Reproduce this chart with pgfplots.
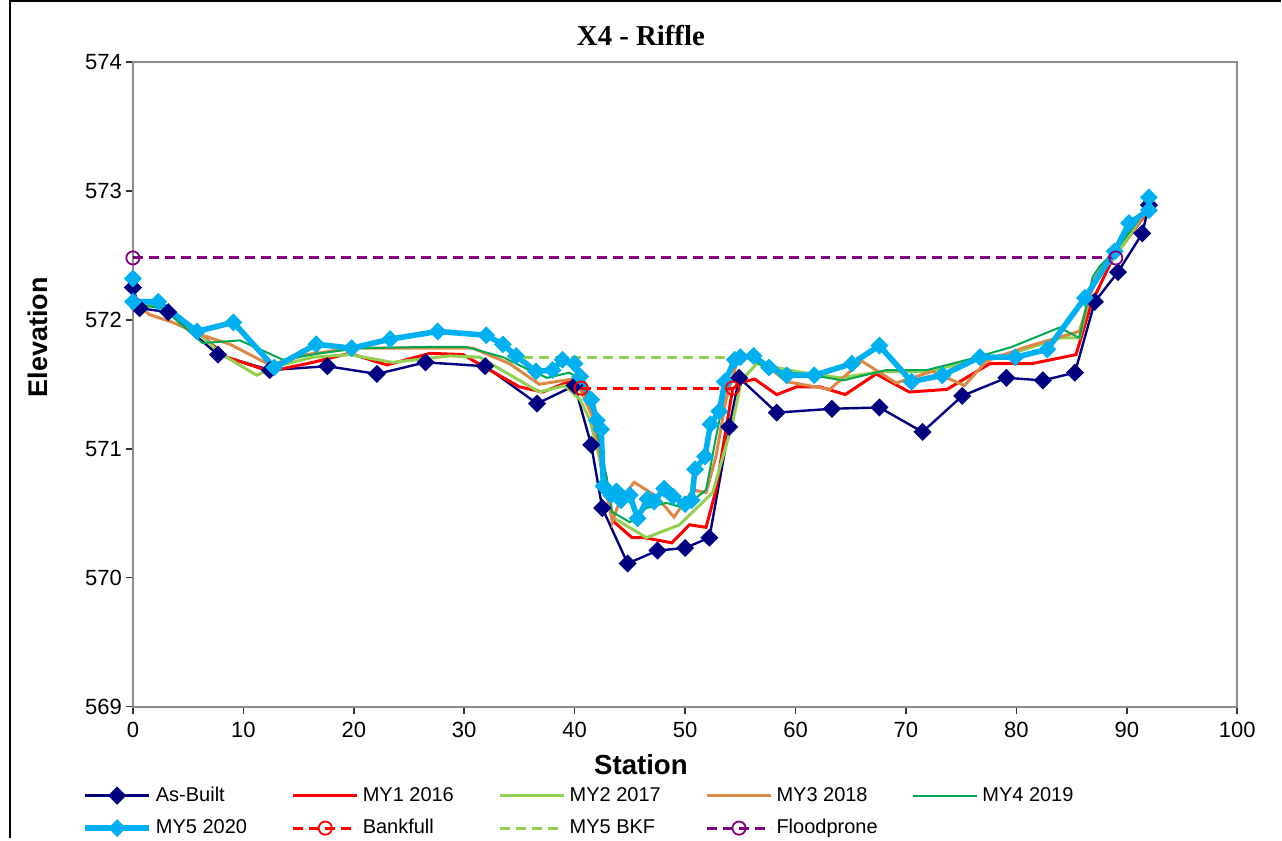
\documentclass[border=0pt]{standalone}
\usepackage{fontspec}
\setmainfont{Liberation Sans}
\newfontfamily\titlefont{Liberation Serif}
\usepackage{pgfplots}
\pgfplotsset{compat=1.18}
\definecolor{asbuilt}{HTML}{000080}
\definecolor{myone}{HTML}{FF0000}
\definecolor{mytwo}{HTML}{92D050}
\definecolor{mythree}{HTML}{DD8844}
\definecolor{myfour}{HTML}{00A84F}
\definecolor{myfive}{HTML}{00B0F0}
\definecolor{flood}{HTML}{800080}
\begin{document}
\begin{tikzpicture}
\begin{axis}[
  name=ax,
  scale only axis,
  width=552.5pt, height=322.5pt,
  xmin=0, xmax=100, ymin=569, ymax=574,
  xtick={0,10,...,100}, ytick={569,570,...,574},
  axis line style={draw=gray!90, line width=1pt},
  tick style={draw=black!80, line width=0.8pt},
  tick align=outside, major tick length=3.5pt,
  xtick pos=bottom, ytick pos=left,
  /pgf/number format/assume math mode=true,
  /pgf/number format/.cd, set thousands separator={}, 1000 sep={}, /pgfplots/.cd,
  tick label style={font=\fontsize{11}{13}\selectfont},
  yticklabel style={xshift=1.5pt},
  xticklabel style={yshift=-1pt},
  title={\titlefont\bfseries X4 - Riffle},
  title style={at={(axis description cs:0.46,1)}, anchor=center, yshift=7pt, font=\fontsize{14.4}{16}\selectfont},
  xlabel={\bfseries Station},
  ylabel={\bfseries Elevation},
  xlabel style={at={(axis description cs:0.46,-0.09)}, anchor=center, font=\fontsize{13.8}{15}\selectfont},
  ylabel style={at={(axis description cs:-0.086,0.573)}, anchor=center, font=\fontsize{13.5}{15}\selectfont},
  legend columns=5,
  legend cell align=left,
  legend style={at={(axis description cs:0,0)}, anchor=north west, xshift=-25.5pt, yshift=-38pt,
    draw=none, fill=none, inner sep=0pt, row sep=3.5pt, font=\fontsize{10}{12}\selectfont,
    /tikz/every even column/.append style={column sep=0pt}},
  legend image code/.code={\draw[mark repeat=2,mark phase=2,#1] plot coordinates {(0pt,0pt) (16pt,0pt) (32pt,0pt)};},
]
% As-Built
\addplot[color=asbuilt, line width=1.2pt, mark=square*, mark size=2.6pt, mark options={rotate=45, solid, fill=asbuilt}] coordinates {
(0,572.25) (0.6,572.09) (3.2,572.06) (7.7,571.73) (12.4,571.61) (17.6,571.64) (22.1,571.58) (26.5,571.67) (31.9,571.64) (36.6,571.35) (40.0,571.49) (41.5,571.03) (42.5,570.54) (44.8,570.11) (47.5,570.21) (50.0,570.23) (52.2,570.31) (54.0,571.17) (54.9,571.55) (58.3,571.28) (63.3,571.31) (67.6,571.32) (71.5,571.13) (75.1,571.41) (79.1,571.55) (82.4,571.53) (85.3,571.59) (87.1,572.14) (89.2,572.37) (91.4,572.67) (92.0,572.89)
};
\addlegendentry{\makebox[66pt][l]{As-Built}}
% MY1 2016
\addplot[color=myone, line width=1.5pt, no marks] coordinates {
(0,572.22) (0.3,572.16) (2.7,572.09) (5.8,571.91) (8.5,571.71) (12.4,571.6) (16.3,571.67) (19.6,571.74) (23.0,571.65) (26.9,571.74) (29.9,571.73) (31.7,571.64) (35.0,571.48) (37.1,571.44) (39.8,571.53) (40.5,571.47) (41.6,571.28) (42.5,570.81) (43.2,570.53) (43.6,570.43) (45.2,570.31) (46.3,570.31) (48.8,570.27) (50.4,570.41) (51.9,570.39) (52.8,570.68) (53.7,571.15) (54.3,571.46) (54.9,571.51) (56.3,571.54) (58.3,571.42) (60.1,571.48) (62.2,571.48) (64.5,571.42) (67.3,571.58) (70.3,571.44) (73.7,571.46) (77.6,571.66) (81.4,571.66) (85.4,571.73) (86.8,572.13) (88.7,572.47) (91.8,572.83) (92.0,572.86)
};
\addlegendentry{\makebox[66pt][l]{MY1 2016}}
% MY2 2017
\addplot[color=mytwo, line width=1.5pt, no marks] coordinates {
(0,572.2) (0.2,572.12) (2.7,572.10) (5.8,571.91) (7.9,571.74) (11.2,571.57) (13.0,571.64) (16.3,571.71) (19.6,571.73) (23.5,571.67) (28.7,571.72) (31.4,571.71) (36.8,571.44) (39.1,571.49) (40.5,571.38) (41.4,571.22) (42.5,570.84) (43.4,570.47) (46.5,570.31) (49.5,570.41) (52.5,570.66) (54.3,571.2) (55.1,571.53) (56.5,571.66) (60,571.6) (64,571.55) (68,571.6) (72,571.6) (76,571.68) (80,571.75) (84,571.86) (85.7,571.86) (87,572.3) (89,572.5) (92,572.87)
};
\addlegendentry{\makebox[66pt][l]{MY2 2017}}
% MY3 2018
\addplot[color=mythree, line width=1.5pt, no marks] coordinates {
(0,572.2) (0.2,572.13) (1.5,572.04) (3.6,571.98) (6.3,571.88) (8.8,571.81) (12.4,571.65) (15.7,571.73) (19.9,571.78) (23.5,571.78) (30.8,571.78) (34.1,571.66) (36.8,571.5) (39.8,571.54) (40.2,571.52) (41.6,571.25) (42.7,570.78) (43.4,570.43) (44.1,570.6) (45.4,570.74) (47.4,570.63) (49.0,570.47) (50.7,570.68) (51.9,570.66) (52.8,570.94) (53.7,571.38) (54.7,571.67) (55.6,571.71) (57.6,571.63) (59.2,571.52) (63.1,571.46) (66.0,571.68) (69.1,571.51) (72.4,571.6) (75.3,571.49) (77.3,571.68) (80.9,571.79) (85.7,571.91) (86.4,572.1) (87.2,572.33) (88.7,572.53) (91.9,572.85)
};
\addlegendentry{\makebox[66pt][l]{MY3 2018}}
% MY4 2019
\addplot[color=myfour, line width=1pt, no marks] coordinates {
(0,572.2) (0.2,572.12) (2.7,572.09) (6.3,571.82) (9.7,571.84) (13.6,571.69) (16.9,571.74) (20.5,571.78) (26.9,571.79) (30.2,571.79) (33.5,571.71) (35.9,571.61) (37.5,571.55) (39.5,571.59) (40.5,571.54) (41.6,571.3) (42.9,570.78) (43.4,570.51) (45.0,570.43) (46.5,570.54) (48.3,570.58) (49.5,570.55) (50.7,570.6) (51.9,570.68) (52.8,571.09) (53.7,571.48) (54.3,571.69) (55.8,571.71) (57.6,571.61) (61.5,571.57) (64.3,571.53) (68.2,571.61) (71.9,571.61) (76.0,571.7) (79.6,571.79) (83.9,571.94) (85.7,571.86) (86.9,572.33) (87.5,572.41) (88.9,572.53) (91.9,572.87)
};
\addlegendentry{\makebox[66pt][l]{MY4 2019}}
% MY5 2020
\addplot[color=myfive, line width=2.8pt, mark=square*, mark size=2.9pt, mark options={rotate=45, solid, fill=myfive, line width=0.5pt}] coordinates {
(0,572.32) (0,572.14) (2.3,572.14) (5.8,571.91) (9.1,571.98) (12.8,571.63) (16.6,571.81) (19.8,571.78) (23.3,571.85) (27.6,571.91) (32.0,571.88) (33.5,571.81) (34.7,571.72) (36.5,571.6) (38.0,571.61) (38.9,571.69) (40.0,571.66) (40.5,571.56) (41.5,571.38) (42.0,571.22) (42.4,571.15) (42.6,570.71) (43.3,570.64) (43.8,570.67) (44.2,570.6) (45.0,570.64) (45.7,570.46) (46.6,570.61) (47.2,570.59) (48.1,570.69) (48.9,570.63) (50.0,570.57) (50.6,570.6) (50.9,570.84) (51.8,570.94) (52.3,571.19) (53.1,571.29) (53.6,571.52) (54.5,571.69) (55.0,571.71) (56.2,571.72) (57.6,571.63) (59.2,571.57) (61.7,571.57) (65.1,571.66) (67.6,571.8) (70.5,571.52) (73.3,571.57) (76.7,571.71) (79.9,571.71) (82.8,571.77) (86.2,572.17) (88.9,572.53) (90.2,572.75) (92.0,572.85) (92.0,572.95)
};
\addlegendentry{\makebox[66pt][l]{MY5 2020}}
% Bankfull
\addplot[color=myone, line width=1.5pt, dash pattern=on 5pt off 3pt, mark=o, mark size=3.3pt, mark options={solid, line width=0.9pt}] coordinates {
(40.6,571.47) (54.3,571.47)
};
\addlegendentry{\makebox[66pt][l]{Bankfull}}
% MY5 BKF
\addplot[color=mytwo, line width=1.5pt, dash pattern=on 5pt off 3pt, no marks] coordinates {
(33.9,571.71) (54.3,571.71)
};
\addlegendentry{\makebox[66pt][l]{MY5 BKF}}
% Floodprone
\addplot[color=flood, line width=1.5pt, dash pattern=on 5pt off 3pt, mark=o, mark size=3.3pt, mark options={solid, line width=0.9pt}] coordinates {
(0,572.48) (89.0,572.48)
};
\addlegendentry{\makebox[66pt][l]{Floodprone}}
\end{axis}
\draw[black, line width=0.8pt] ([xshift=-61.5pt,yshift=-66pt]ax.south west) -- ([xshift=-61.5pt,yshift=353pt]ax.south west) -- ([xshift=574.5pt,yshift=353pt]ax.south west);
\useasboundingbox ([xshift=-66.5pt,yshift=-66pt]ax.south west) rectangle ([xshift=574.5pt,yshift=353.5pt]ax.south west);
\end{tikzpicture}
\end{document}
